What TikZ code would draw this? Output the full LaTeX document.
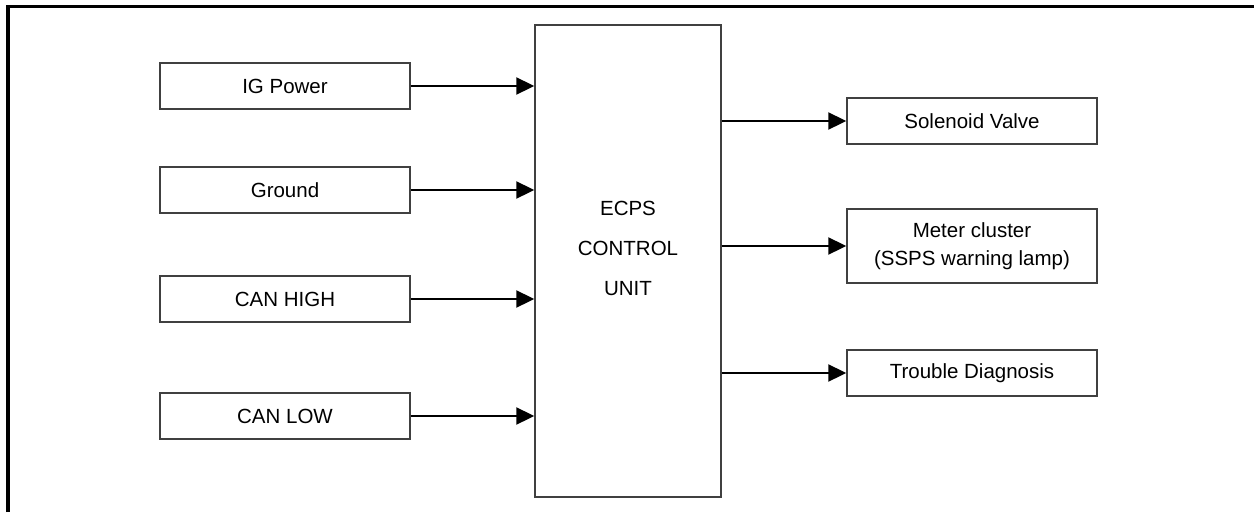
\documentclass[tikz,border=0pt]{standalone}
\usepackage{fontspec}
\setmainfont{Liberation Sans}
\usetikzlibrary{arrows.meta}

\begin{document}
\begin{tikzpicture}
  [x=1pt,y=-1pt,every node/.style={draw=black!75,line width=1.4pt,inner sep=0pt,
   font=\fontsize{20.5}{28}\selectfont,align=center}]
 \tikzset{edge/.style = {-{Triangle[length=18pt,width=17pt]},line width=2pt},
          sig/.style = {minimum width=250pt,minimum height=46pt}}
  \useasboundingbox (0,0) rectangle (1254,512);
  \draw[line width=3.5pt] (8,512) -- (8,6.5) -- (1254,6.5);

  \node[minimum width=186pt,minimum height=472pt,text depth=25pt,
    font=\fontsize{20.5}{40}\selectfont] (ecu) at (628,261) {ECPS\\CONTROL\\UNIT};
  \node[sig] (ig) at (285,86)  {IG Power};
  \node[sig] (gnd) at (285,190) {Ground};
  \node[sig] (canh) at (285,299) {CAN HIGH};
  \node[sig] (canl) at (285,416) {CAN LOW};
  \node[sig] (sv) at (972,121) {Solenoid Valve};
  \node[sig,minimum height=74pt] (mc) at (972,246) {Meter cluster\\(SSPS warning lamp)};
  \node[sig] (td) at (972,373) {Trouble Diagnosis};

  \foreach \from in {ig,gnd,canh,canl}
    \draw[edge] (\from.east) -- (\from.east -| ecu.west);
  \foreach \to in {sv,mc,td}
    \draw[edge] (\to.west -| ecu.east) -- (\to.west);

\end{tikzpicture}
\end{document}
